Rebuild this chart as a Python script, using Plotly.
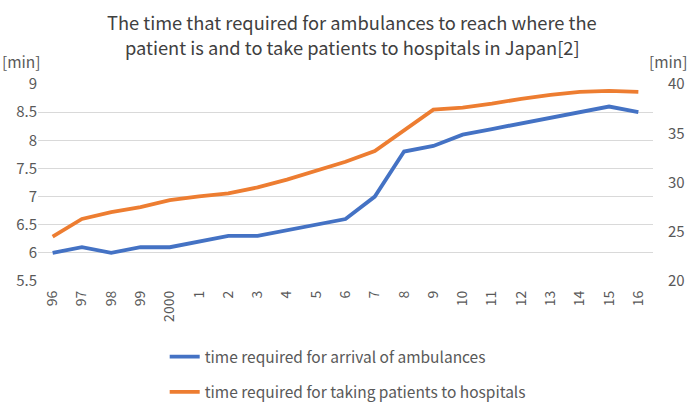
import plotly.graph_objects as go

years = ["96", "97", "98", "99", "2000", "1", "2", "3", "4", "5", "6", "7", "8",
         "9", "10", "11", "12", "13", "14", "15", "16"]
arrival = [6.0, 6.1, 6.0, 6.1, 6.1, 6.2, 6.3, 6.3, 6.4, 6.5, 6.6, 7.0, 7.8,
           7.9, 8.1, 8.2, 8.3, 8.4, 8.5, 8.6, 8.5]
hospital = [24.5, 26.3, 27.0, 27.5, 28.2, 28.6, 28.9, 29.5, 30.3, 31.2, 32.1, 33.2, 35.3,
            37.4, 37.6, 38.0, 38.5, 38.9, 39.2, 39.3, 39.2]
title_lines = ["The time that required for ambulances to reach where the",
               "patient is and to take patients to hospitals in Japan[2]"]

FONT = "Noto Sans CJK JP"
GRAY = "#595959"
L, R, T, B = 38, 45, 84, 126
PW, PH = 698 - L - R, 407 - T - B


def px_x(x):
    return (x - L) / PW


def px_y(y):
    return (407 - B - y) / PH


fig = go.Figure()
fig.add_trace(go.Scatter(x=years, y=arrival, mode="lines", yaxis="y",
                         name="time required for arrival of ambulances",
                         legendgroup="a",
                         line=dict(color="#4472C4", width=3.8)))
fig.add_trace(go.Scatter(x=years, y=hospital, mode="lines", yaxis="y2",
                         name="time required for taking patients to hospitals",
                         legendgroup="b",
                         line=dict(color="#ED7D31", width=3.8)))

annotations = []
for i, t in enumerate(title_lines):
    annotations.append(dict(text=t, xref="paper", yref="paper",
                            x=px_x(352), y=px_y(22 + 25 * i),
                            xanchor="center", yanchor="middle", showarrow=False,
                            font=dict(family=FONT, size=18.3, color="#404040")))

annotations += [
    dict(text="[min]", xref="paper", yref="paper", x=px_x(0), y=px_y(61),
         xanchor="left", yanchor="middle", showarrow=False,
         font=dict(size=15.5, color=GRAY)),
    dict(text="[min]", xref="paper", yref="paper", x=px_x(647), y=px_y(61),
         xanchor="left", yanchor="middle", showarrow=False,
         font=dict(size=15.5, color=GRAY)),
]

fig.update_layout(
    width=698, height=407,
    margin=dict(l=L, r=R, t=T, b=B, autoexpand=False),
    paper_bgcolor="white", plot_bgcolor="white",
    font=dict(family=FONT, color=GRAY, size=13),
    xaxis=dict(type="category", range=[-0.5, 20.5], tickangle=-90,
               showgrid=False, showline=False, ticks="", automargin=False,
               ticklabelstandoff=6,
               tickfont=dict(size=14, color=GRAY)),
    yaxis=dict(range=[5.5, 9], dtick=0.5, showgrid=True, gridcolor="#d9d9d9",
               gridwidth=1, zeroline=False, showline=False, ticks="", automargin=False,
               tickfont=dict(size=15, color=GRAY)),
    yaxis2=dict(range=[20, 40], dtick=5, overlaying="y", side="right",
                showgrid=False, zeroline=False, showline=False, ticks="", automargin=False,
                ticklabelstandoff=14,
                tickfont=dict(size=15, color=GRAY)),
    showlegend=True,
    legend=dict(x=0.206, xanchor="left", y=-0.30, yanchor="top",
                orientation="v", tracegroupgap=12,
                font=dict(size=15.5, color=GRAY), bgcolor="rgba(0,0,0,0)"),
    annotations=annotations,
)

fig.write_html("out.html", config={"displayModeBar": False},
               post_script="document.body.style.margin='0';")
